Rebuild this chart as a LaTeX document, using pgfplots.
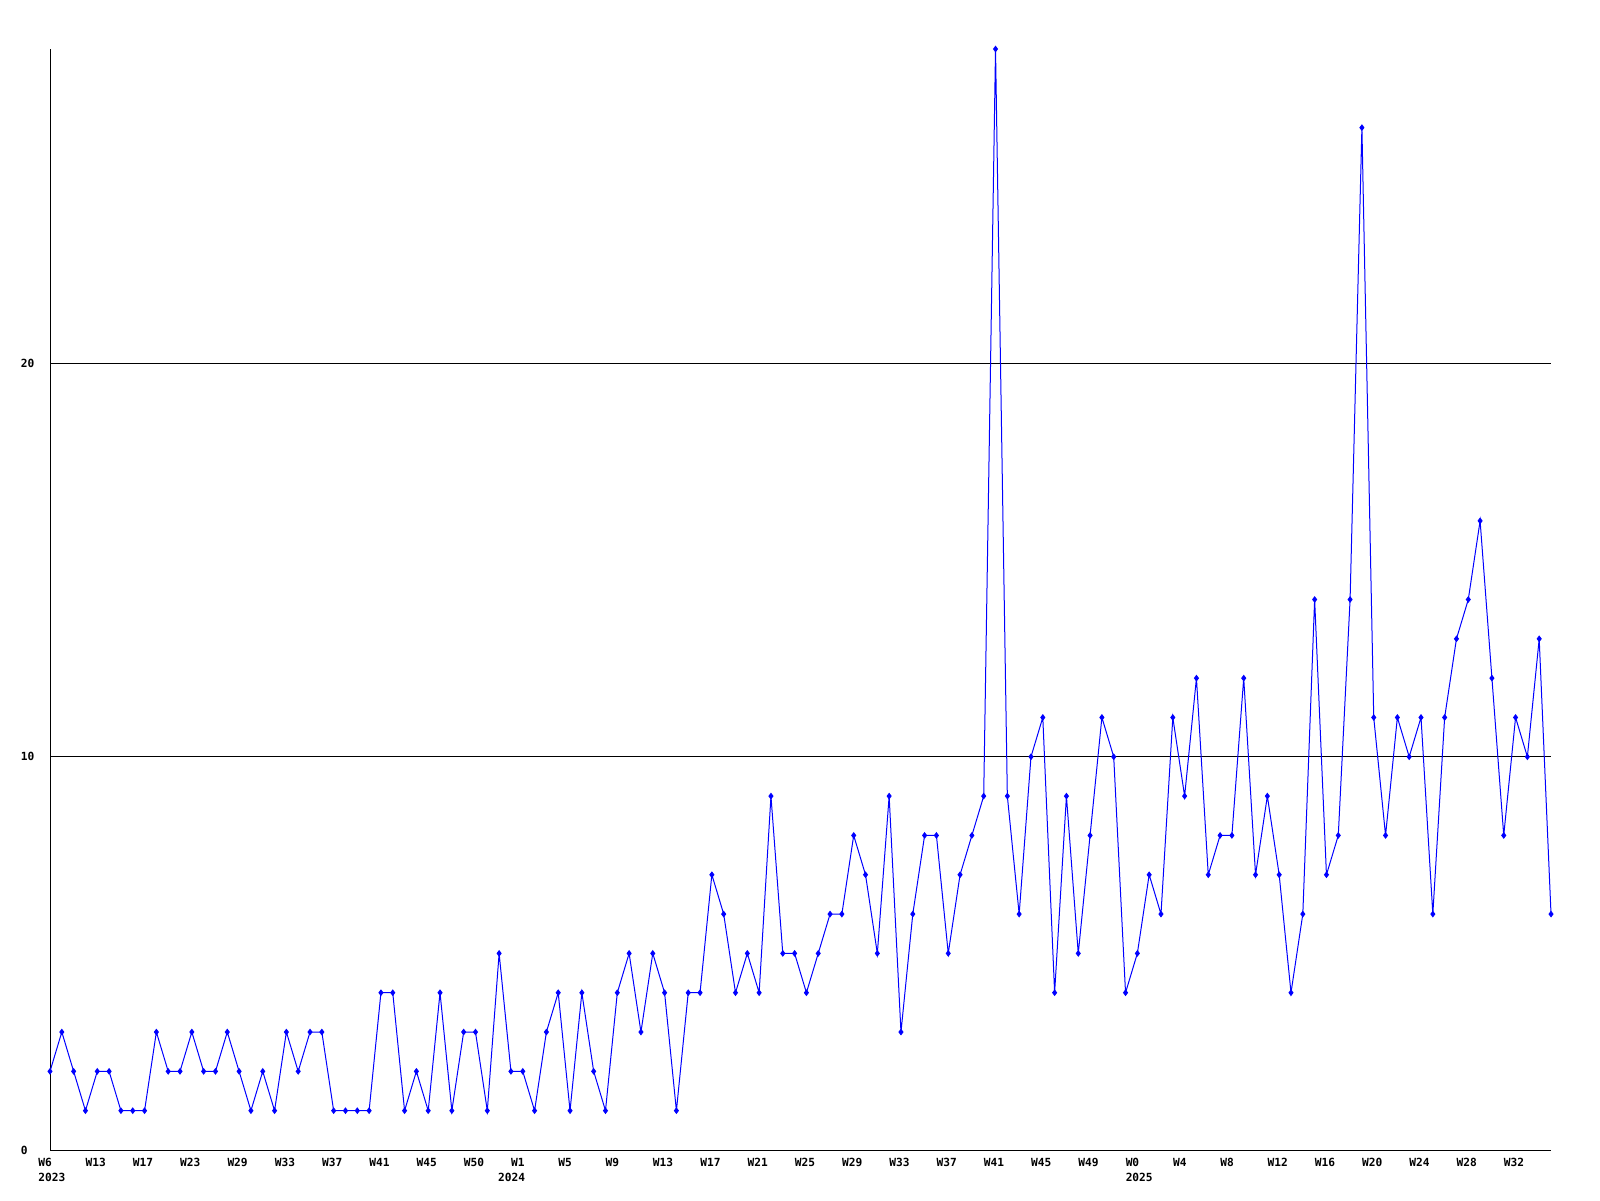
\documentclass[border=0pt]{standalone}
\usepackage{fontspec}
\usepackage{pgfplots}
\pgfplotsset{compat=1.18}
\newfontfamily\labelfont{DejaVu Sans Mono}

\definecolor{serieblue}{RGB}{0,0,255}

\begin{document}
\begin{tikzpicture}
% 1 px of the reference = 0.5pt
\useasboundingbox (0,0) rectangle (800pt,600pt);
\begin{axis}[
  scale only axis,
  width=750.5pt, height=550.5pt,
  at={(25pt,25pt)}, anchor=south west,
  xmin=0, xmax=127, ymin=0, ymax=28,
  separate axis lines,
  axis x line*=bottom, axis y line*=left,
  axis line style={black, line width=0.5pt},
  clip=false,
  /pgf/number format/assume math mode=true,
  tick style={draw=none}, major tick length=0pt,
  ytick={0,10,20}, yticklabels={0,10,20},
  ymajorgrids, grid style={black, line width=0.5pt},
  xtick={0,4,...,124},
  xticklabels={W6,W13,W17,W23,W29,W33,W37,W41,W45,W50,W1,
    W5,W9,W13,W17,W21,W25,W29,W33,W37,W41,W45,W49,
    W0,W4,W8,W12,W16,W20,W24,W28,W32},
  tick label style={font=\labelfont\bfseries\fontsize{5.6}{6}\selectfont, inner sep=0pt},
  xticklabel style={anchor=north west, xshift=-6pt, yshift=-3.9pt},
  yticklabel style={anchor=west, xshift=-14.75pt},
  extra x ticks={0,38.9,92},
  extra x tick labels={2023,2024,2025},
  extra x tick style={xticklabel style={yshift=-7.6pt}},
]
\addplot[color=serieblue, line width=0.5pt, mark=diamond*, mark size=1.3pt]
  coordinates{
(0,2)(1,3)(2,2)(3,1)(4,2)(5,2)(6,1)(7,1)(8,1)(9,3)
(10,2)(11,2)(12,3)(13,2)(14,2)(15,3)(16,2)(17,1)(18,2)(19,1)
(20,3)(21,2)(22,3)(23,3)(24,1)(25,1)(26,1)(27,1)(28,4)(29,4)
(30,1)(31,2)(32,1)(33,4)(34,1)(35,3)(36,3)(37,1)(38,5)(39,2)
(40,2)(41,1)(42,3)(43,4)(44,1)(45,4)(46,2)(47,1)(48,4)(49,5)
(50,3)(51,5)(52,4)(53,1)(54,4)(55,4)(56,7)(57,6)(58,4)(59,5)
(60,4)(61,9)(62,5)(63,5)(64,4)(65,5)(66,6)(67,6)(68,8)(69,7)
(70,5)(71,9)(72,3)(73,6)(74,8)(75,8)(76,5)(77,7)(78,8)(79,9)
(80,28)(81,9)(82,6)(83,10)(84,11)(85,4)(86,9)(87,5)(88,8)(89,11)
(90,10)(91,4)(92,5)(93,7)(94,6)(95,11)(96,9)(97,12)(98,7)(99,8)
(100,8)(101,12)(102,7)(103,9)(104,7)(105,4)(106,6)(107,14)(108,7)(109,8)
(110,14)(111,26)(112,11)(113,8)(114,11)(115,10)(116,11)(117,6)(118,11)(119,13)
(120,14)(121,16)(122,12)(123,8)(124,11)(125,10)(126,13)(127,6)};
\end{axis}
\end{tikzpicture}
\end{document}
